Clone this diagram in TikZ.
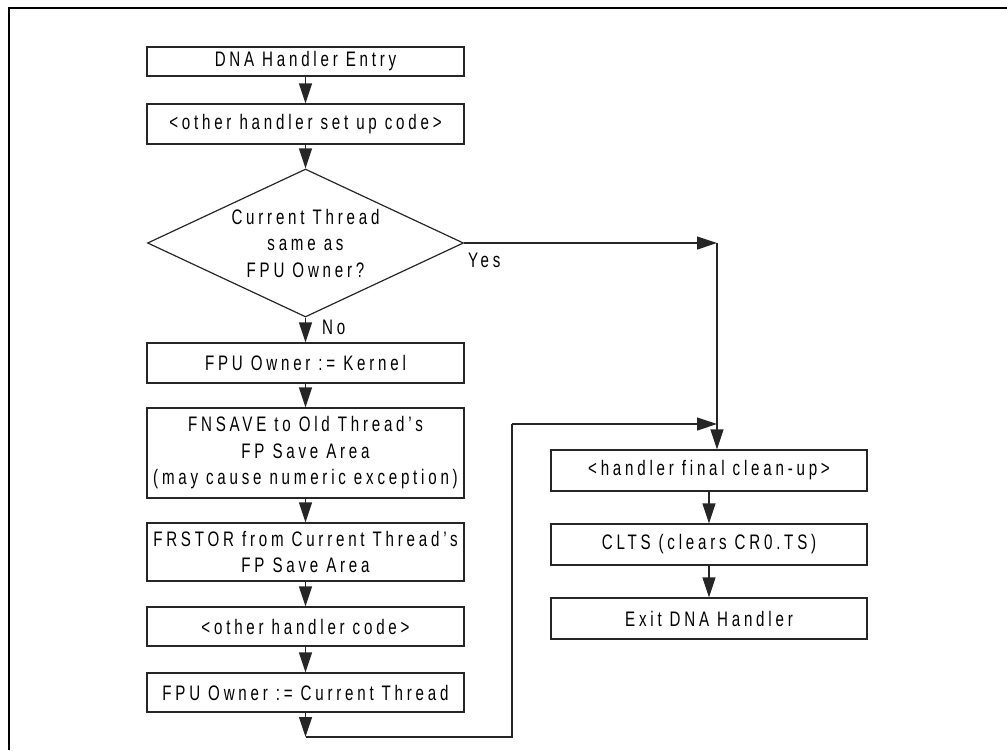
\documentclass[tikz,border=0pt]{standalone}
\usepackage{fontspec}
\setmainfont{Liberation Sans}[FakeStretch=0.72,LetterSpace=18]
\usetikzlibrary{shapes.geometric,arrows.meta}
\begin{document}
\begin{tikzpicture}[x=1pt,y=-1pt,
  every node/.style={font=\fontsize{21}{26.5}\selectfont, text=black},
  lbox/.style={draw=black!85, line width=1.2pt, rectangle, minimum width=317pt, inner sep=0pt, align=center},
  rbox/.style={lbox, minimum width=316pt},
  dec/.style={draw=black!85, line width=1.2pt, shape=diamond, aspect=2.14, inner sep=0pt, minimum width=316pt, minimum height=148pt, align=center},
  conn/.style={line width=1.2pt, draw=black!85},
  arr/.style={conn, -{Triangle[length=20pt,width=13pt]}},
  lbl/.style={anchor=west, inner sep=0pt}
]
\useasboundingbox (0,0) rectangle (1007,750);
\draw[line width=2.2pt] (1007,8) -- (9,8) -- (9,750);

\node[lbox, minimum height=29pt] (b1) at (305.5,61.5) {DNA Handler Entry};
\node[lbox, minimum height=40pt] (b2) at (305.5,124) {<other handler set up code>};
\node[dec] (d) at (305.5,243) {Current Thread\\same as\\FPU Owner?};
\node[lbox, minimum height=40pt] (b3) at (305.5,363) {FPU Owner := Kernel};
\node[lbox, minimum height=90pt] (b4) at (305.5,453) {FNSAVE to Old Thread’s\\FP Save Area\\(may cause numeric exception)};
\node[lbox, minimum height=58pt] (b5) at (305.5,552) {FRSTOR from Current Thread’s\\FP Save Area};
\node[lbox, minimum height=39pt] (b6) at (305.5,626.5) {<other handler code>};
\node[lbox, minimum height=39pt] (b7) at (305.5,692.5) {FPU Owner := Current Thread};

\node[rbox, minimum height=41pt] (r1) at (709,470.5) {<handler final clean-up>};
\node[rbox, minimum height=41pt] (r2) at (709,544.5) {CLTS (clears CR0.TS)};
\node[rbox, minimum height=41pt] (r3) at (709,618.5) {Exit DNA Handler};

\node[lbl] (yes) at (468,260) {Yes};
\node[lbl] (no) at (322,327) {No};

\coordinate (yc) at (717,243);
\coordinate (c1) at (305.5,737);
\coordinate (c2) at (512,737);
\coordinate (c3) at (512,424);
\coordinate (c4) at (717,424);

\draw[arr] (b1) -- (b2);
\draw[arr] (b2) -- (d);
\draw[arr] (d) -- (b3);
\draw[arr] (b3) -- (b4);
\draw[arr] (b4) -- (b5);
\draw[arr] (b5) -- (b6);
\draw[arr] (b6) -- (b7);
\draw[arr] (b7) -- (c1);
\draw[conn] (c1) -- (c2) -- (c3);
\draw[arr] (c3) -- (c4);
\draw[arr] (d.east) -- (yc);
\draw[arr] (yc) -- (yc |- r1.north);
\draw[arr] (r1) -- (r2);
\draw[arr] (r2) -- (r3);
\end{tikzpicture}
\end{document}
